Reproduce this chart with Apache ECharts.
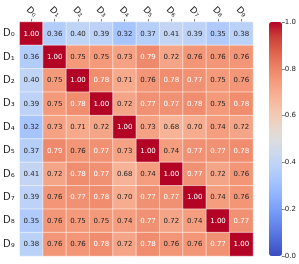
<!DOCTYPE html>
<html><head><meta charset="utf-8">
<script src="https://cdn.jsdelivr.net/npm/echarts@6/dist/echarts.min.js"></script>
<style>html,body{margin:0;padding:0;background:#fff}#c{width:299px;height:264px}</style>
</head><body><div id="c"></div>
<script>
const labels = ['D₀','D₁','D₂','D₃','D₄','D₅','D₆','D₇','D₈','D₉'];
const row0 = [1.00,0.36,0.40,0.39,0.32,0.37,0.41,0.39,0.35,0.38];
const row1 = [0.36,1.00,0.75,0.75,0.73,0.79,0.72,0.76,0.76,0.76];
const row2 = [0.40,0.75,1.00,0.78,0.71,0.76,0.78,0.77,0.75,0.76];
const row3 = [0.39,0.75,0.78,1.00,0.72,0.77,0.77,0.78,0.75,0.78];
const row4 = [0.32,0.73,0.71,0.72,1.00,0.73,0.68,0.70,0.74,0.72];
const row5 = [0.37,0.79,0.76,0.77,0.73,1.00,0.74,0.77,0.77,0.78];
const row6 = [0.41,0.72,0.78,0.77,0.68,0.74,1.00,0.77,0.72,0.76];
const row7 = [0.39,0.76,0.77,0.78,0.70,0.77,0.77,1.00,0.74,0.76];
const row8 = [0.35,0.76,0.75,0.75,0.74,0.77,0.72,0.74,1.00,0.77];
const row9 = [0.38,0.76,0.76,0.78,0.72,0.78,0.76,0.76,0.77,1.00];
const rows = [row0,row1,row2,row3,row4,row5,row6,row7,row8,row9];
const cbTicks = [0.0,0.2,0.4,0.6,0.8,1.0];

const coolwarm = ['#3b4cc0','#4d68d7','#6282ea','#779af7','#8db0fe','#a3c2ff','#b8d0f9','#ccd9ee','#dddddd',
  '#ecd3c5','#f5c4ad','#f7b194','#f49a7b','#ec7f63','#de604d','#cb3e38','#b40426'];

const data = [];
rows.forEach((r, i) => r.forEach((v, j) => {
  data.push({value: [j, i, v], label: {color: v >= 0.765 ? '#ffffff' : '#262626'}});
}));

const chart = echarts.init(document.getElementById('c'), null, {renderer: 'canvas'});
chart.setOption({
  animation: false,
  textStyle: {fontFamily: 'DejaVu Sans'},
  grid: [
    {left: 19, top: 22, width: 234, height: 234},
    {left: 269, top: 22, width: 13, height: 234}
  ],
  xAxis: [
    {type: 'category', data: labels, position: 'top', gridIndex: 0,
     axisLine: {show: false}, splitLine: {show: false},
     axisTick: {show: true, alignWithLabel: true, length: 3, lineStyle: {color: '#333', width: 0.6}},
     axisLabel: {rotate: 45, fontSize: 9, color: '#262626', margin: 10, align: 'center', verticalAlign: 'middle', fontFamily: 'DejaVu Sans'}},
    {type: 'category', data: ['a'], gridIndex: 1, show: false}
  ],
  yAxis: [
    {type: 'category', data: labels, inverse: true, gridIndex: 0,
     axisLine: {show: false}, splitLine: {show: false},
     axisTick: {show: false},
     axisLabel: {fontSize: 10, color: '#262626', margin: 5, fontFamily: 'DejaVu Sans'}},
    {type: 'value', min: 0, max: 1, interval: 0.2, gridIndex: 1, position: 'right',
     axisLine: {show: false}, splitLine: {show: false},
     axisTick: {show: true, length: 3, lineStyle: {color: '#333', width: 0.6}},
     axisLabel: {fontSize: 7, color: '#262626', margin: 3, formatter: v => v.toFixed(1), fontFamily: 'DejaVu Sans'}}
  ],
  visualMap: {
    type: 'continuous', min: 0, max: 1, calculable: false, seriesIndex: 0,
    orient: 'vertical', left: 269, top: 22, itemWidth: 13, itemHeight: 234, padding: 0,
    text: null, showLabel: false, hoverLink: false,
    inRange: {color: coolwarm}
  },
  series: [
    {type: 'heatmap', xAxisIndex: 0, yAxisIndex: 0, data: data,
     itemStyle: {borderColor: '#ffffff', borderWidth: 0.5},
     label: {show: true, fontSize: 7, fontFamily: 'DejaVu Sans', formatter: p => p.value[2].toFixed(2)}}
  ]
});
</script></body></html>
